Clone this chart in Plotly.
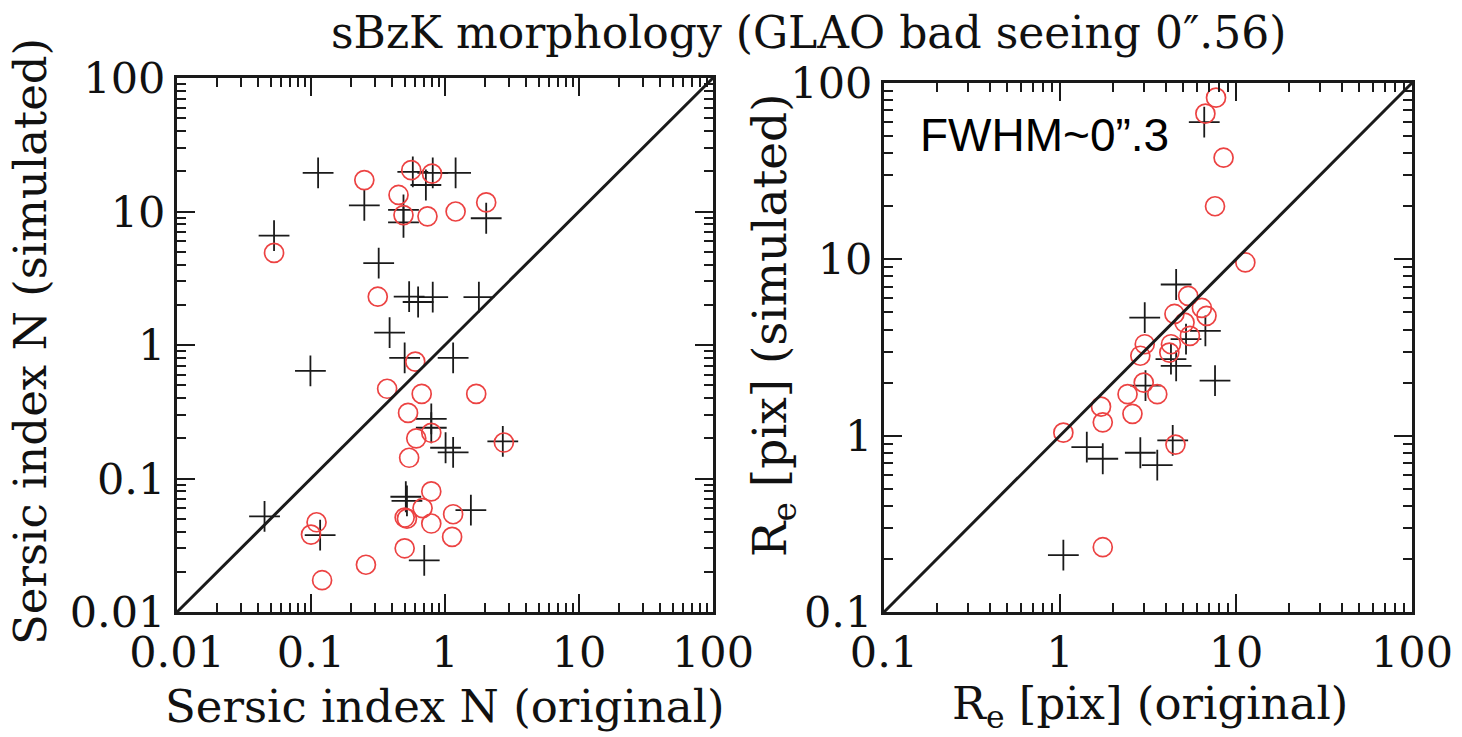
import math
import plotly.graph_objects as go

# ---- Left panel: Sersic index N ----
n_plus_orig = [0.113, 0.575, 0.81, 1.2, 0.72, 0.25, 0.49, 0.49, 2.03, 0.053, 0.32,
               0.54, 0.63, 0.81, 1.79, 0.386, 0.099, 0.50, 1.15, 0.79, 0.79, 1.01,
               1.15, 2.7, 0.045, 0.117, 0.51, 0.52, 1.56, 0.70]
n_plus_sim = [19.5, 19.8, 19.5, 19.5, 15.8, 11.1, 10.3, 8.3, 8.9, 6.6, 4.1,
              2.3, 2.1, 2.28, 2.28, 1.24, 0.64, 0.80, 0.80, 0.28, 0.24, 0.17,
              0.157, 0.19, 0.052, 0.0376, 0.073, 0.068, 0.058, 0.0244]
n_circ_orig = [0.25, 0.56, 0.80, 0.45, 0.49, 0.74, 1.2, 2.03, 0.053, 0.315,
               0.60, 0.37, 0.67, 1.71, 0.53, 0.61, 0.79, 0.54, 2.75, 0.79,
               0.68, 0.50, 0.52, 1.15, 0.79, 1.13, 0.11, 0.10, 0.50, 0.257, 0.121]
n_circ_sim = [17.2, 20.4, 19.2, 13.3, 9.4, 9.2, 10.0, 11.7, 4.9, 2.3,
              0.75, 0.47, 0.43, 0.43, 0.31, 0.20, 0.22, 0.143, 0.186, 0.080,
              0.060, 0.051, 0.050, 0.054, 0.046, 0.0365, 0.047, 0.038, 0.030, 0.0226, 0.0173]

# ---- Right panel: effective radius Re [pix] ----
r_plus_orig = [6.6, 4.57, 3.03, 6.7, 5.2, 4.57, 4.27, 7.6, 3.06, 1.42, 1.75,
               2.86, 3.57, 4.37, 1.045]
r_plus_sim = [60.0, 7.2, 4.67, 3.93, 3.53, 2.49, 2.72, 2.05, 1.92, 0.86, 0.74,
              0.80, 0.68, 0.94, 0.21]
r_circ_orig = [7.7, 6.7, 8.5, 7.6, 11.3, 5.35, 4.47, 6.4, 6.8, 5.1, 5.47, 4.27,
               4.18, 3.03, 2.86, 2.99, 2.42, 3.57, 2.58, 1.71, 1.75, 1.045, 4.53, 1.75]
r_circ_sim = [82.6, 67.0, 37.7, 20.0, 9.6, 6.2, 4.9, 5.3, 4.78, 4.38, 3.68, 3.3,
              2.96, 3.3, 2.84, 2.0, 1.72, 1.72, 1.33, 1.46, 1.19, 1.04, 0.89, 0.233]

left_range = [0.01, 100]
right_range = [0.1, 100]
left_ticks = [0.01, 0.1, 1, 10, 100]
left_ticklabels = ["0.01", "0.1", "1", "10", "100"]
right_ticks = [0.1, 1, 10, 100]
right_ticklabels = ["0.1", "1", "10", "100"]

RED = "rgb(236,66,66)"
INK = "#1a1a1a"
SERIF = "DejaVu Serif"

W, H = 1462, 737
def px(x): return x / W
def py(y): return 1 - y / H


def minor_vals(major):
    # 2..9 subdivisions inside each decade
    out = []
    for d in major[:-1]:
        out += [d * k for k in range(2, 10)]
    return out


fig = go.Figure()

plus_marker = dict(symbol="cross-thin", size=22, line=dict(color=INK, width=1.8))
circ_marker = dict(symbol="circle-open", size=19, color=RED, line=dict(color=RED, width=1.7))

# identity lines drawn on the top/right overlay axes (same ranges)
fig.add_trace(go.Scatter(x=left_range, y=left_range, mode="lines",
                         line=dict(color=INK, width=3), xaxis="x3", yaxis="y3",
                         showlegend=False, hoverinfo="skip"))
fig.add_trace(go.Scatter(x=right_range, y=right_range, mode="lines",
                         line=dict(color=INK, width=3), xaxis="x4", yaxis="y4",
                         showlegend=False, hoverinfo="skip"))

fig.add_trace(go.Scatter(x=n_plus_orig, y=n_plus_sim, mode="markers", marker=plus_marker,
                         xaxis="x", yaxis="y", showlegend=False))
fig.add_trace(go.Scatter(x=n_circ_orig, y=n_circ_sim, mode="markers", marker=circ_marker,
                         xaxis="x", yaxis="y", showlegend=False))
fig.add_trace(go.Scatter(x=r_plus_orig, y=r_plus_sim, mode="markers", marker=plus_marker,
                         xaxis="x2", yaxis="y2", showlegend=False))
fig.add_trace(go.Scatter(x=r_circ_orig, y=r_circ_sim, mode="markers", marker=circ_marker,
                         xaxis="x2", yaxis="y2", showlegend=False))


def axis(rng, ticks, labels, domain, anchor, side, labels_on=True, overlaying=None):
    d = dict(type="log", range=[math.log10(rng[0]), math.log10(rng[1])],
             domain=domain, anchor=anchor, side=side, automargin=False,
             tickmode="array", tickvals=ticks,
             showticklabels=labels_on,
             ticks="inside", ticklen=18, tickwidth=2.2, tickcolor=INK,
             minor=dict(tickmode="array", tickvals=minor_vals(ticks),
                        ticks="inside", ticklen=9, tickwidth=1.6, tickcolor=INK,
                        showgrid=False),
             showline=True, linecolor=INK, linewidth=3, mirror=False,
             showgrid=False, zeroline=False, fixedrange=True,
             tickfont=dict(family=SERIF, size=43, color="#111"))
    if labels_on:
        d["ticktext"] = labels
    if overlaying:
        d["overlaying"] = overlaying
    return d


fig.update_layout(
    width=W, height=H, autosize=False,
    margin=dict(l=0, r=0, t=0, b=0, pad=0, autoexpand=False),
    paper_bgcolor="white", plot_bgcolor="white",
    showlegend=False,
    xaxis=axis(left_range, left_ticks, left_ticklabels, [px(177), px(713)], "y", "bottom"),
    yaxis=axis(left_range, left_ticks, left_ticklabels, [py(612), py(78)], "x", "left"),
    xaxis2=axis(right_range, right_ticks, right_ticklabels, [px(884), px(1412)], "y2", "bottom"),
    yaxis2=axis(right_range, right_ticks, right_ticklabels, [py(612), py(83)], "x2", "left"),
    xaxis3=axis(left_range, left_ticks, left_ticklabels, [px(177), px(713)], "y3", "top",
                labels_on=False, overlaying="x"),
    yaxis3=axis(left_range, left_ticks, left_ticklabels, [py(612), py(78)], "x3", "right",
                labels_on=False, overlaying="y"),
    xaxis4=axis(right_range, right_ticks, right_ticklabels, [px(884), px(1412)], "y4", "top",
                labels_on=False, overlaying="x2"),
    yaxis4=axis(right_range, right_ticks, right_ticklabels, [py(612), py(83)], "x4", "right",
                labels_on=False, overlaying="y2"),
    annotations=[
        dict(text="sBzK morphology (GLAO bad seeing 0\u2033.56)", x=px(808), y=py(32),
             xref="paper", yref="paper", showarrow=False,
             font=dict(family=SERIF, size=44, color="#111"), xanchor="center", yanchor="middle"),
        dict(text="Sersic index N (original)", x=px(445), y=py(706),
             xref="paper", yref="paper", showarrow=False,
             font=dict(family=SERIF, size=45, color="#111"), xanchor="center", yanchor="middle"),
        dict(text="R<sub>e</sub> [pix] (original)", x=px(1150), y=py(706),
             xref="paper", yref="paper", showarrow=False,
             font=dict(family=SERIF, size=45, color="#111"), xanchor="center", yanchor="middle"),
        dict(text="Sersic index N (simulated)", x=px(30), y=py(342), textangle=-90,
             xref="paper", yref="paper", showarrow=False,
             font=dict(family=SERIF, size=45, color="#111"), xanchor="center", yanchor="middle"),
        dict(text="R<sub>e</sub> [pix] (simulated)", x=px(773), y=py(325), textangle=-90,
             xref="paper", yref="paper", showarrow=False,
             font=dict(family=SERIF, size=47, color="#111"), xanchor="center", yanchor="middle"),
        dict(text="FWHM~0\u201d.3", x=px(1044), y=py(135),
             xref="paper", yref="paper", showarrow=False,
             font=dict(family="Liberation Sans", size=46, color="#000"), xanchor="center", yanchor="middle"),
    ],
)

fig.write_html("out.html")
